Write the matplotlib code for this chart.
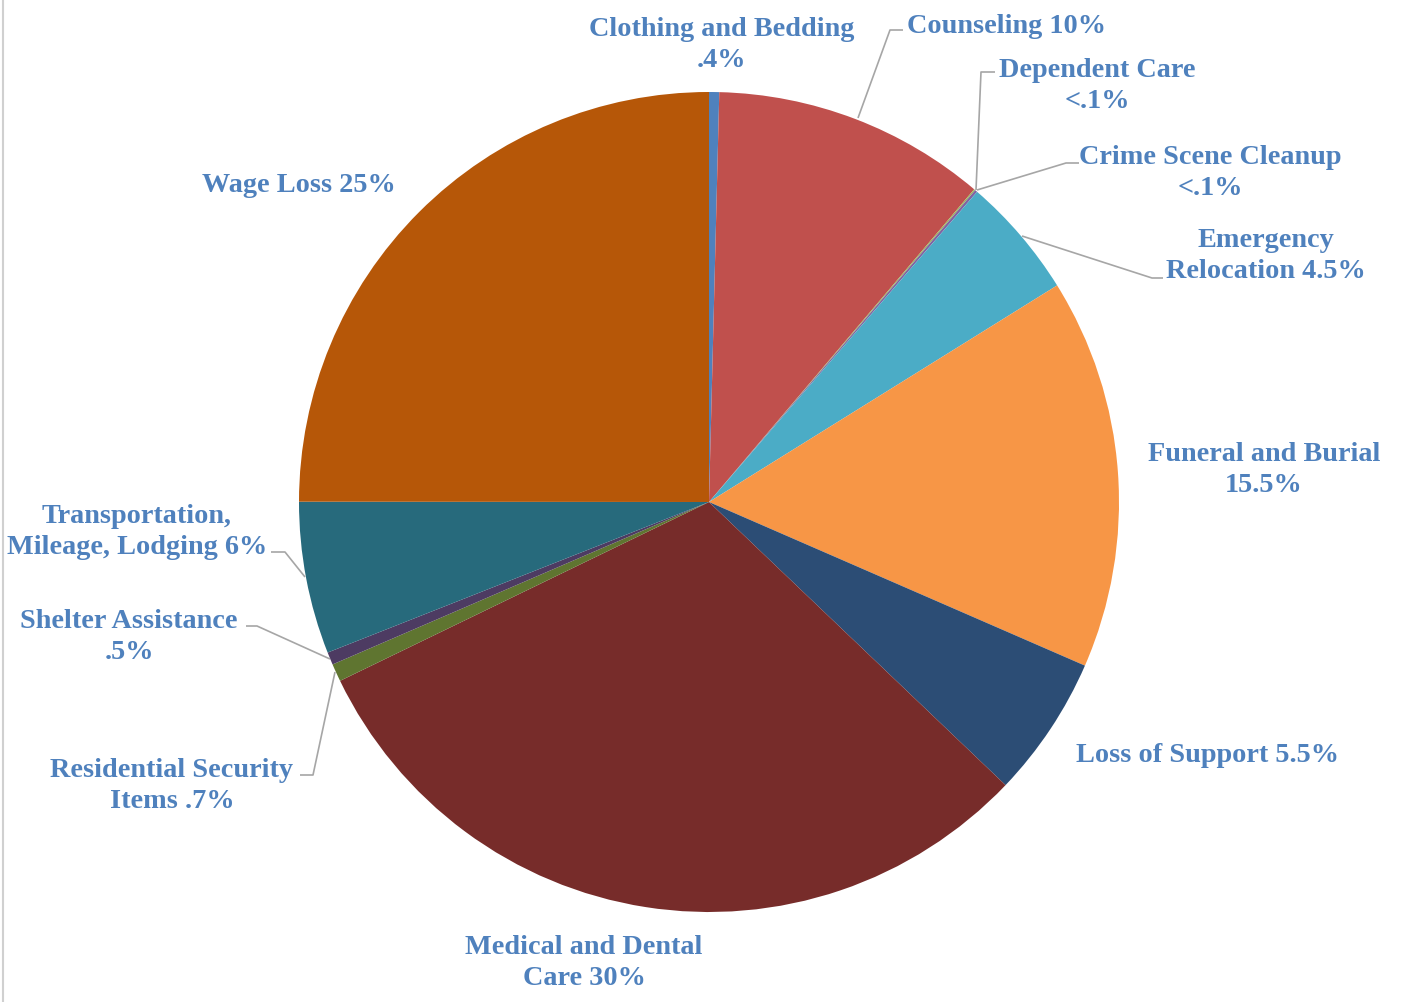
import matplotlib
matplotlib.use("Agg")
import matplotlib.pyplot as plt
from matplotlib.lines import Line2D

categories = ["Clothing and Bedding", "Counseling", "Dependent Care", "Crime Scene Cleanup",
              "Emergency Relocation", "Funeral and Burial", "Loss of Support",
              "Medical and Dental Care", "Residential Security Items", "Shelter Assistance",
              "Transportation, Mileage, Lodging", "Wage Loss"]
values = [0.4, 10.8, 0.05, 0.1, 4.8, 15.4, 5.6, 30.7, 0.7, 0.5, 6.0, 25.0]
label_texts = ["Clothing and Bedding\n.4%", "Counseling 10%", "Dependent Care\n<.1%",
               "Crime Scene Cleanup\n<.1%", "Emergency\nRelocation 4.5%",
               "Funeral and Burial\n15.5%", "Loss of Support 5.5%",
               "Medical and Dental\nCare 30%", "Residential Security\nItems .7%",
               "Shelter Assistance\n.5%", "Transportation,\nMileage, Lodging 6%", "Wage Loss 25%"]
colors = ["#4F81BD", "#C0504D", "#9BBB59", "#8064A2", "#4BACC6", "#F79646",
          "#2C4D75", "#772C2A", "#5F7530", "#4D3B62", "#276A7C", "#B65708"]

W, H = 1408, 1002
fig = plt.figure(figsize=(W / 100, H / 100), dpi=100)
ax = fig.add_axes([0, 0, 1, 1])

def Y(y):
    return H - y

cx, cy, r = 709, 502, 410
ax.pie(values, colors=colors, startangle=90, counterclock=False,
       center=(cx, Y(cy)), radius=r, wedgeprops=dict(linewidth=0), frame=True)
ax.set_xlim(0, W)
ax.set_ylim(0, H)
ax.set_aspect("equal")
ax.axis("off")

tcol = "#4F81BD"
font = dict(family="Liberation Serif", fontweight="bold", fontsize=20.3, color=tcol,
            linespacing=1.3)

label_pos = [
    (722, 45, "center"), (907, 26, "left"), (1097, 86, "center"), (1210, 173, "center"),
    (1266, 256, "center"), (1264, 470, "center"), (1208, 756, "center"),
    (584, 963, "center"), (172, 786, "center"), (129, 637, "center"),
    (137, 532, "center"), (299, 185, "center"),
]
for txt, (x, y, ha) in zip(label_texts, label_pos):
    ax.text(x, Y(y), txt, ha=ha, va="center", multialignment="center", **font)

leaders = [
    [(858, 118), (890, 30), (903, 30)],
    [(976, 190), (981, 72), (995, 72)],
    [(977, 190), (1066, 163), (1079, 163)],
    [(1022, 236), (1152, 278), (1163, 278)],
    [(305, 577), (285, 552), (271, 552)],
    [(330, 659), (257, 626), (246, 626)],
    [(335, 672), (313, 775), (300, 775)],
]
for pts in leaders:
    xs = [p[0] for p in pts]
    ys = [Y(p[1]) for p in pts]
    ax.plot(xs, ys, color="#A6A6A6", lw=1.2, solid_capstyle="butt")

fig.add_artist(Line2D([3 / W, 3 / W], [0, 1], color="#D0D0D0", lw=1.5))

fig.savefig("out.png", dpi=100, facecolor="white")
